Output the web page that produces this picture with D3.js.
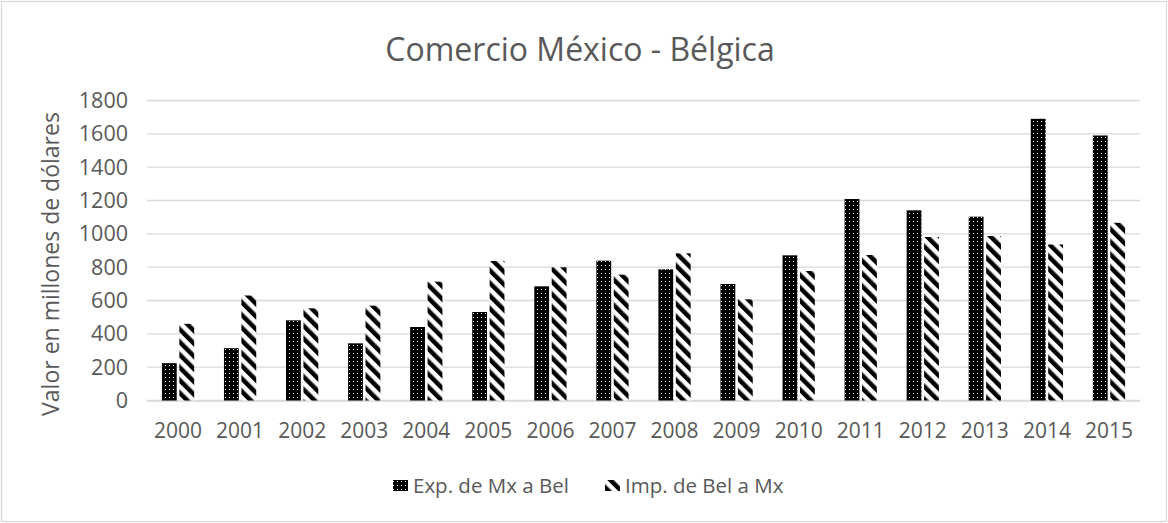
<!DOCTYPE html>
<meta charset="UTF-8">
<script src="https://d3js.org/d3.v7.min.js"></script>
<style>
  body { margin: 0; background: white; }
  text { font-family: "Open Sans", sans-serif; fill: #595959; }
</style>
<body>
<div id="mysvg"></div>
<script>

var years = ["2000","2001","2002","2003","2004","2005","2006","2007",
             "2008","2009","2010","2011","2012","2013","2014","2015"];
var expMxBel = [224, 314, 481, 343, 441, 531, 685, 839, 787, 699, 871, 1209, 1141, 1103, 1690, 1590];
var impBelMx = [460, 630, 553, 569, 713, 837, 799, 755, 883, 607, 777, 873, 981, 987, 936, 1066];
var yTicks = [0, 200, 400, 600, 800, 1000, 1200, 1400, 1600, 1800];
var seriesNames = ["Exp. de Mx a Bel", "Imp. de Bel a Mx"];

var width = 1168, height = 523;

var svg = d3.select("#mysvg")
  .append("svg")
    .attr("width", width)
    .attr("height", height);

// patterns: dotted black and wide downward diagonal
var defs = svg.append("defs");
var dots = defs.append("pattern")
    .attr("id", "dots")
    .attr("patternUnits", "userSpaceOnUse")
    .attr("width", 4).attr("height", 4);
dots.append("rect").attr("width", 4).attr("height", 4).attr("fill", "black");
dots.append("rect").attr("x", 1).attr("y", 1).attr("width", 1).attr("height", 1)
    .attr("fill", "white").attr("shape-rendering", "crispEdges");

var diag = defs.append("pattern")
    .attr("id", "diag")
    .attr("patternUnits", "userSpaceOnUse")
    .attr("width", 9).attr("height", 9)
    .attr("patternTransform", "rotate(-45)");
diag.append("rect").attr("width", 9).attr("height", 9).attr("fill", "white");
diag.append("rect").attr("width", 4.5).attr("height", 9).attr("fill", "black");

// chart border
svg.append("rect")
    .attr("x", 1.5).attr("y", 1.5)
    .attr("width", width - 3).attr("height", height - 3)
    .attr("fill", "white")
    .attr("stroke", "#d9d9d9")
    .attr("stroke-width", 1.3);

var x = d3.scaleBand()
  .domain(years)
  .range([147, 1140]);

var y = d3.scaleLinear()
  .domain([0, 1800])
  .range([400.5, 100.5]);

// gridlines
svg.append("g")
  .selectAll("line")
  .data(yTicks)
  .enter()
  .append("line")
    .attr("x1", 147).attr("x2", 1140)
    .attr("y1", function(d) { return y(d); })
    .attr("y2", function(d) { return y(d); })
    .attr("stroke", "#d9d9d9")
    .attr("stroke-width", 1.3);

// y axis labels
var yAxis = svg.append("g")
  .attr("transform", "translate(147,0)")
  .call(d3.axisLeft(y).tickValues(yTicks).tickSize(0).tickPadding(19).tickFormat(d3.format("d")));
yAxis.select(".domain").remove();
yAxis.selectAll("text")
  .style("font-size", "21.5px")
  .attr("fill", "#595959");

// x axis labels
var xAxis = svg.append("g")
  .attr("transform", "translate(0,400.5)")
  .call(d3.axisBottom(x).tickSize(0).tickPadding(23));
xAxis.select(".domain").attr("stroke", "#d9d9d9").attr("stroke-width", 1.3);
xAxis.selectAll("text")
  .style("font-size", "21px")
  .attr("fill", "#595959");

// bars
var inner = d3.scaleBand()
  .domain([0, 1])
  .range([x.bandwidth() * 0.24, x.bandwidth() * 0.76])
  .paddingInner(0.15);

var fills = ["url(#dots)", "url(#diag)"];
var series = [expMxBel, impBelMx];

series.forEach(function(vals, s) {
  svg.append("g")
    .selectAll("rect")
    .data(vals)
    .enter()
    .append("rect")
      .attr("x", function(d, i) { return x(years[i]) + inner(s); })
      .attr("y", function(d) { return y(d); })
      .attr("width", inner.bandwidth())
      .attr("height", function(d) { return y(0) - y(d); })
      .attr("fill", fills[s]);
});

// title
svg.append("text")
  .attr("x", 580)
  .attr("y", 61)
  .attr("text-anchor", "middle")
  .style("font-size", "32px")
  .text("Comercio México - Bélgica");

// y axis title
svg.append("text")
  .attr("transform", "translate(59,264) rotate(-90)")
  .attr("text-anchor", "middle")
  .style("font-size", "23px")
  .text("Valor en millones de dólares");

// legend
var legendX = [393, 605];
var legend = svg.append("g");
seriesNames.forEach(function(name, s) {
  legend.append("rect")
    .attr("x", legendX[s])
    .attr("y", 480)
    .attr("width", 15)
    .attr("height", 11)
    .attr("fill", fills[s]);
  legend.append("text")
    .attr("x", legendX[s] + 20)
    .attr("y", 493)
    .style("font-size", "20.5px")
    .text(name);
});

</script>
</body>
